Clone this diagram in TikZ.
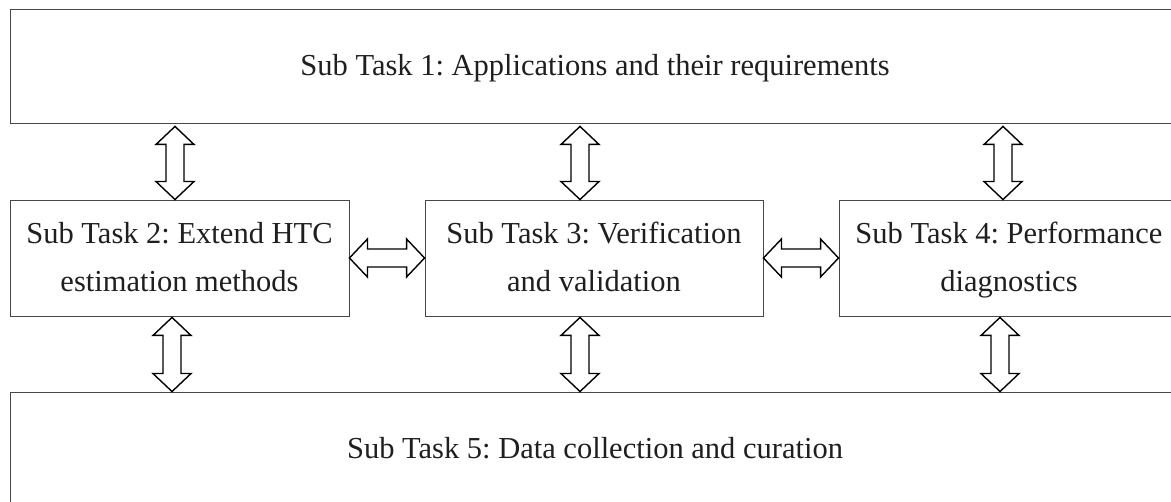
\documentclass[tikz,border=0pt]{standalone}
\usepackage{fontspec}
\setmainfont{Liberation Serif}
\usetikzlibrary{calc}
\begin{document}
\frenchspacing
\begin{tikzpicture}[x=1pt,y=-1pt,
  box/.style={draw=black!72, line width=0.9pt, inner sep=0pt, align=center,
    font=\fontsize{30.5}{48}\selectfont, text=black!88},
  dbl/.style={draw=black, line width=1.4pt, fill=white, line join=miter,
    to path={-- ($(\tikztostart)!18pt!(\tikztotarget)!19pt!90:(\tikztotarget)$)
      -- ($(\tikztostart)!18pt!(\tikztotarget)!9pt!90:(\tikztotarget)$)
      -- ($(\tikztotarget)!18pt!(\tikztostart)!9pt!-90:(\tikztostart)$)
      -- ($(\tikztotarget)!18pt!(\tikztostart)!19pt!-90:(\tikztostart)$)
      -- (\tikztotarget)
      -- ($(\tikztotarget)!18pt!(\tikztostart)!19pt!90:(\tikztostart)$)
      -- ($(\tikztotarget)!18pt!(\tikztostart)!9pt!90:(\tikztostart)$)
      -- ($(\tikztostart)!18pt!(\tikztotarget)!9pt!-90:(\tikztotarget)$)
      -- ($(\tikztostart)!18pt!(\tikztotarget)!19pt!-90:(\tikztotarget)$)
      -- cycle}}]
\useasboundingbox (0,0) rectangle (1171,502);
\clip (0,0) rectangle (1171,502);
\node[box, minimum width=1170pt, minimum height=114pt] (t1) at (595,66)
  {\strut Sub Task 1: Applications and their requirements\strut};
\node[box, minimum width=339pt, minimum height=116pt] (b2) at (179.5,258)
  {\strut Sub Task 2: Extend HTC\strut\\\strut estimation methods\strut};
\node[box, minimum width=338pt, minimum height=116pt] (b3) at (594,258)
  {\strut Sub Task 3: Verification\strut\\\strut and validation\strut};
\node[box, minimum width=340pt, minimum height=116pt] (b4) at (1009,258)
  {\strut Sub Task 4: Performance\strut\\\strut diagnostics\strut};
\node[box, minimum width=1170pt, minimum height=114pt] (t5) at (595,449)
  {\strut Sub Task 5: Data collection and curation\strut};
\coordinate (x1) at (175,0);
\coordinate (x2) at (580,0);
\coordinate (x3) at (1003,0);
\coordinate (y1) at (172,0);
\coordinate (y2) at (580,0);
\coordinate (y3) at (1000,0);
\draw[dbl] ($(t1.south -| x1)+(0,3)$) to (b2.north -| x1);
\draw[dbl] ($(t1.south -| x2)+(0,3)$) to (b3.north -| x2);
\draw[dbl] ($(t1.south -| x3)+(0,3)$) to (b4.north -| x3);
\draw[dbl] ($(b2.south -| y1)+(0,1)$) to (t5.north -| y1);
\draw[dbl] ($(b3.south -| y2)+(0,1)$) to (t5.north -| y2);
\draw[dbl] ($(b4.south -| y3)+(0,1)$) to (t5.north -| y3);
\draw[dbl] (b2.east) to (b3.west);
\draw[dbl] (b3.east) to (b4.west);
\end{tikzpicture}
\end{document}
